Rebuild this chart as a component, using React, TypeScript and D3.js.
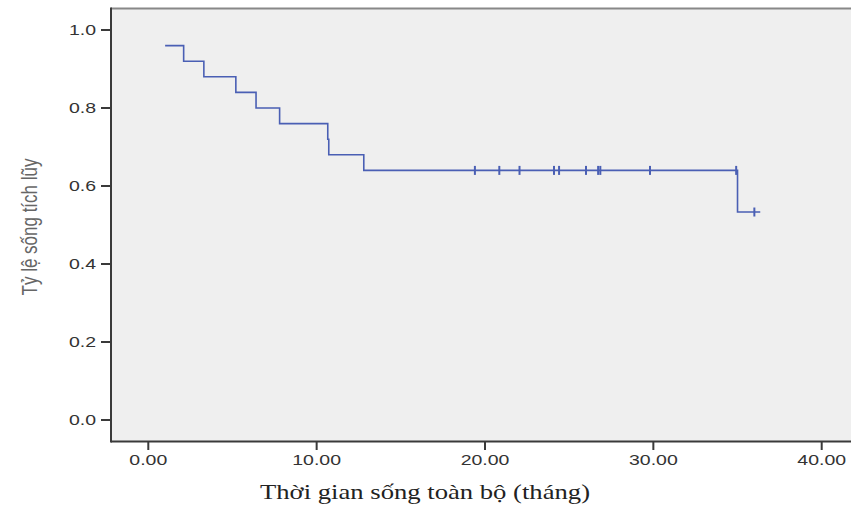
import React, { useEffect, useRef } from "react";
import * as d3 from "d3";

// Kaplan-Meier steps
const startTime = 1.0;
const startSurvival = 0.96;
const eventTimes = [2.1, 3.3, 5.2, 6.4, 7.8, 10.66, 10.72, 12.8, 35.0];
const eventSurvival = [0.92, 0.88, 0.84, 0.8, 0.76, 0.72, 0.68, 0.64, 0.5333];
const censorTimes = [19.4, 20.85, 22.05, 24.1, 24.4, 26.0, 26.72, 26.85, 29.8, 34.92, 36.0];
const censorSurvival = [0.64, 0.64, 0.64, 0.64, 0.64, 0.64, 0.64, 0.64, 0.64, 0.64, 0.5333];
const endTime = 36.35;

const xTicks = [0, 10, 20, 30, 40];
const yTicks = [0, 0.2, 0.4, 0.6, 0.8, 1.0];
const xTitle = "Thời gian sống toàn bộ (tháng)";
const yTitle = "Tỷ lệ sống tích lũy";

const W = 851;
const H = 507;
const frame = { left: 111, top: 8.5, right: 870, bottom: 441.5 };
const stretch = 1.3;
const lineColor = "#4a5fb4";

const App = () => {
  const ref = useRef<SVGSVGElement>(null);

  useEffect(() => {
    const svg = d3.select(ref.current);
    svg.selectAll("*").remove();

    const x = d3.scaleLinear().domain([0, 40]).range([148.3, 821.7]);
    const y = d3.scaleLinear().domain([0, 1]).range([420, 30]);

    // plot background
    svg
      .append("rect")
      .attr("x", frame.left)
      .attr("y", frame.top)
      .attr("width", frame.right - frame.left)
      .attr("height", frame.bottom - frame.top)
      .attr("fill", "#efefef");
    svg
      .append("line")
      .attr("x1", frame.left)
      .attr("x2", frame.right)
      .attr("y1", frame.top)
      .attr("y2", frame.top)
      .attr("stroke", "#888")
      .attr("stroke-width", 2);
    svg
      .append("line")
      .attr("x1", frame.left)
      .attr("x2", frame.right)
      .attr("y1", frame.bottom)
      .attr("y2", frame.bottom)
      .attr("stroke", "#3a3a3a")
      .attr("stroke-width", 2);
    svg
      .append("line")
      .attr("x1", frame.left)
      .attr("x2", frame.left)
      .attr("y1", frame.top - 1)
      .attr("y2", frame.bottom + 1)
      .attr("stroke", "#3a3a3a")
      .attr("stroke-width", 2);

    // y axis ticks + labels
    const yG = svg.append("g");
    yTicks.forEach((v) => {
      yG.append("line")
        .attr("x1", 101)
        .attr("x2", frame.left)
        .attr("y1", y(v))
        .attr("y2", y(v))
        .attr("stroke", "#3a3a3a")
        .attr("stroke-width", 2);
      yG.append("text")
        .attr("transform", `translate(96,${y(v) + 5}) scale(${stretch},1)`)
        .attr("text-anchor", "end")
        .attr("font-family", "Liberation Sans, Arial, sans-serif")
        .attr("font-size", 15)
        .attr("fill", "#333")
        .text(v.toFixed(1));
    });

    // x axis ticks + labels
    const xG = svg.append("g");
    xTicks.forEach((v) => {
      xG.append("line")
        .attr("x1", x(v))
        .attr("x2", x(v))
        .attr("y1", frame.bottom)
        .attr("y2", 450)
        .attr("stroke", "#3a3a3a")
        .attr("stroke-width", 2);
      xG.append("text")
        .attr("transform", `translate(${x(v)},465) scale(${stretch},1)`)
        .attr("text-anchor", "middle")
        .attr("font-family", "Liberation Sans, Arial, sans-serif")
        .attr("font-size", 15)
        .attr("fill", "#333")
        .text(v.toFixed(2));
    });

    // axis titles
    svg
      .append("text")
      .attr("transform", `translate(425,499) scale(${stretch},1)`)
      .attr("text-anchor", "middle")
      .attr("font-family", "Liberation Serif, Times New Roman, serif")
      .attr("font-size", 20.5)
      .attr("fill", "#222")
      .text(xTitle);
    svg
      .append("text")
      .attr("transform", `translate(37,227) scale(${stretch},1) rotate(-90)`)
      .attr("text-anchor", "middle")
      .attr("font-family", "Liberation Sans, Arial, sans-serif")
      .attr("font-size", 17)
      .attr("fill", "#666")
      .text(yTitle);

    // survival curve
    const pts: [number, number][] = [[startTime, startSurvival]];
    eventTimes.forEach((t, i) => pts.push([t, eventSurvival[i]]));
    pts.push([endTime, eventSurvival[eventSurvival.length - 1]]);

    const line = d3
      .line<[number, number]>()
      .x((d) => x(d[0]))
      .y((d) => y(d[1]))
      .curve(d3.curveStepAfter);

    svg
      .append("path")
      .datum(pts)
      .attr("fill", "none")
      .attr("stroke", lineColor)
      .attr("stroke-width", 1.6)
      .attr("d", line);

    // censor marks
    svg
      .append("g")
      .selectAll("line")
      .data(censorTimes)
      .join("line")
      .attr("x1", (d) => x(d))
      .attr("x2", (d) => x(d))
      .attr("y1", (d, i) => y(censorSurvival[i]) - 4.5)
      .attr("y2", (d, i) => y(censorSurvival[i]) + 4.5)
      .attr("stroke", lineColor)
      .attr("stroke-width", 2);
  }, []);

  return (
    <svg
      ref={ref}
      width={W}
      height={H}
      style={{ position: "absolute", left: 0, top: 0, background: "#fff" }}
    ></svg>
  );
};

export default App;
